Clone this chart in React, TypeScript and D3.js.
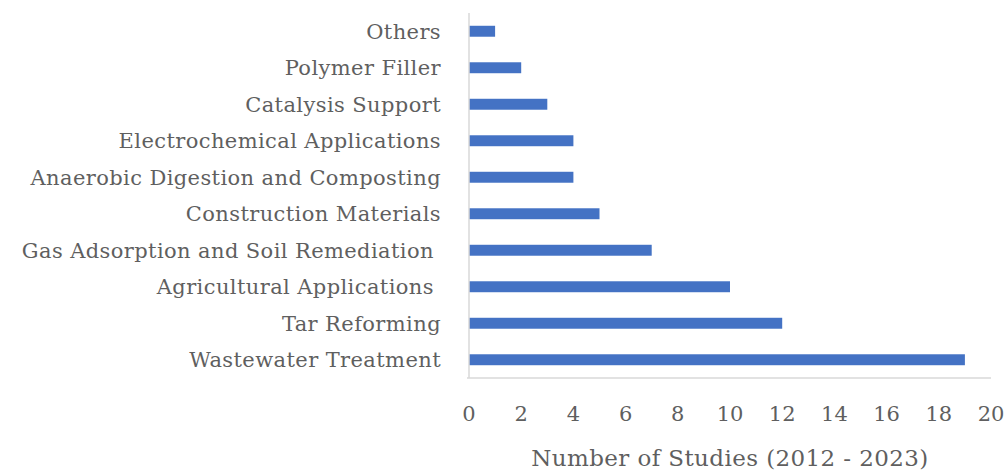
import React from 'react';
import * as d3 from 'd3';

const categories = [
  'Others',
  'Polymer Filler',
  'Catalysis Support',
  'Electrochemical Applications',
  'Anaerobic Digestion and Composting',
  'Construction Materials',
  'Gas Adsorption and Soil Remediation ',
  'Agricultural Applications ',
  'Tar Reforming',
  'Wastewater Treatment',
];
const studies = [1, 2, 3, 4, 4, 5, 7, 10, 12, 19];
const xTicks = [0, 2, 4, 6, 8, 10, 12, 14, 16, 18, 20];

const width = 1005;
const height = 472;
const plot = { left: 469, right: 991, top: 13, bottom: 378 };
const font = '"DejaVu Serif", serif';
const textColor = '#5f5f5f';

const App = () => {
  const x = d3.scaleLinear().domain([0, 20]).range([plot.left, plot.right]);
  const y = d3
    .scaleBand<string>()
    .domain(categories)
    .range([plot.top, plot.bottom])
    .paddingInner(0.7)
    .paddingOuter(0.35);

  return (
    <svg
      width={width}
      height={height}
      style={{ position: 'absolute', left: 0, top: 0 }}
    >
      <rect width={width} height={height} fill="#fff" />
      {categories.map((c, i) => (
        <rect
          key={c}
          x={x(0)}
          y={y(c)}
          width={x(studies[i]) - x(0)}
          height={y.bandwidth()}
          fill="#4472C4"
        />
      ))}
      {/* axes */}
      <line x1={plot.left} x2={plot.left} y1={plot.top} y2={plot.bottom} stroke="#d9d9d9" strokeWidth={1.5} />
      <line x1={plot.left - 2} x2={plot.right} y1={plot.bottom} y2={plot.bottom} stroke="#d9d9d9" strokeWidth={1.5} />
      {categories.map((c) => (
        <text
          key={c}
          x={441}
          y={(y(c) as number) + y.bandwidth() / 2}
          dy="0.35em"
          textAnchor="end"
          fontFamily={font}
          fontSize={21}
          letterSpacing={0.4}
          fill={textColor}
          style={{ whiteSpace: 'pre' }}
        >
          {c}
        </text>
      ))}
      {xTicks.map((t) => (
        <text
          key={t}
          x={x(t)}
          y={421}
          textAnchor="middle"
          fontFamily={font}
          fontSize={21}
          fill={textColor}
        >
          {t}
        </text>
      ))}
      <text
        x={730}
        y={466}
        textAnchor="middle"
        fontFamily={font}
        fontSize={23}
        letterSpacing={0.4}
        fill={textColor}
      >
        Number of Studies (2012 - 2023)
      </text>
    </svg>
  );
};

export default App;
